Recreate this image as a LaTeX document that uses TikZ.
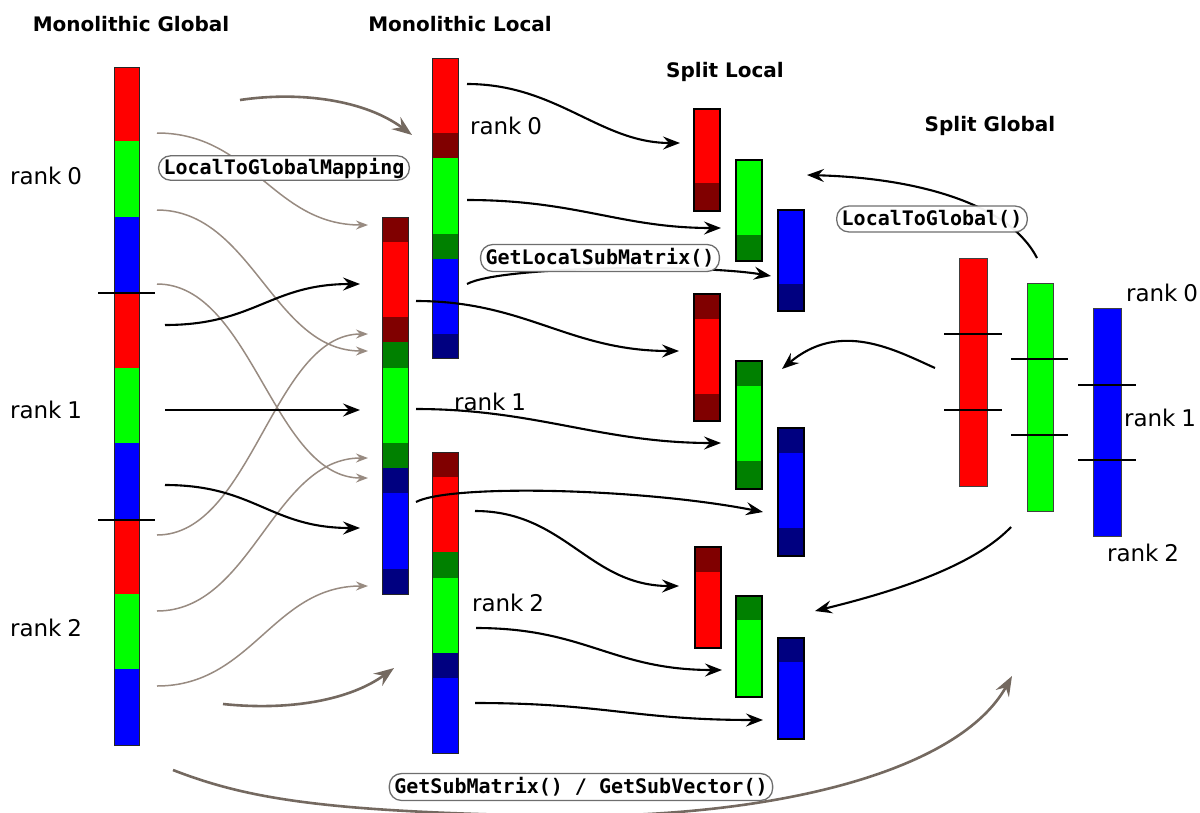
\documentclass[tikz,border=0pt]{standalone}
\usepackage{fontspec}
\setmainfont{DejaVu Sans}
\newfontfamily\codefont{DejaVu Sans Mono}
\usetikzlibrary{arrows.meta}
\definecolor{dred}{RGB}{128,0,0}
\definecolor{dgreen}{RGB}{0,128,0}
\definecolor{dblue}{RGB}{0,0,128}
\definecolor{pgreen}{RGB}{0,255,0}
\definecolor{pred}{RGB}{255,0,0}
\definecolor{pblue}{RGB}{0,0,255}
\definecolor{lgray}{RGB}{152,139,129}
\definecolor{dgray}{RGB}{116,105,96}
\definecolor{boxgray}{RGB}{110,110,110}
\newcommand{\segs}[3]{\foreach \c/\a/\b in {#3} {\fill[\c] (#1,\a) rectangle ({#1+#2},\b);}}
\tikzset{
  blk/.style={draw=black, line width=2.1pt, -{Stealth[length=17pt,width=13pt,inset=6pt]}},
  thinarr/.style={draw=lgray, line width=1.5pt, -{Stealth[length=12pt,width=9pt,inset=4pt]}},
  thickarr/.style={draw=dgray, line width=2.6pt, -{Stealth[length=20pt,width=15pt,inset=7pt]}},
  codebox/.style={draw=boxgray, line width=1.3pt, rounded corners=12pt, fill=white, fill opacity=0.94, text opacity=1, font=\codefont\bfseries\fontsize{20}{24}\selectfont, inner xsep=5pt, inner ysep=4pt},
  rank/.style={font=\fontsize{23}{26}\selectfont, inner sep=0pt},
  title/.style={font=\bfseries\fontsize{20}{23}\selectfont, inner sep=0pt},
  mono/.style={draw=black!85, line width=1.2pt, anchor=north west, inner sep=0pt},
  splitl/.style={draw=black, line width=2.4pt, anchor=north west, inner sep=0pt},
  splitg/.style={draw=black!75, line width=1pt, anchor=north west, inner sep=0pt},
  tick/.style={draw=black, line width=1.4pt}
}
\begin{document}
\begin{tikzpicture}[x=1pt,y=-1pt]
\useasboundingbox (0,0) rectangle (1200,812);

% titles
\node[title] (t1) at (131,24) {Monolithic Global};
\node[title] (t2) at (460,24) {Monolithic Local};
\node[title] (t3) at (725,72) {Split Local};
\node[title] (t4) at (990,126) {Split Global};

% rank labels
\node[rank] (r0a) at (46,176) {rank\kern0.25em 0};
\node[rank] (r1a) at (46,410) {rank\kern0.25em 1};
\node[rank] (r2a) at (46,628) {rank\kern0.25em 2};
\node[rank] (r0b) at (506,126) {rank\kern0.25em 0};
\node[rank] (r1b) at (490,402) {rank\kern0.25em 1};
\node[rank] (r2b) at (508,603) {rank\kern0.25em 2};
\node[rank] (r0c) at (1162,293) {rank\kern0.25em 0};
\node[rank] (r1c) at (1160,418) {rank\kern0.25em 1};
\node[rank] (r2c) at (1143,553) {rank\kern0.25em 2};

% Monolithic Global
\segs{114}{25}{pred/67/141, pgreen/141/217, pblue/217/293, pred/293/368, pgreen/368/443, pblue/443/520, pred/520/594, pgreen/594/669, pblue/669/745}
\node[mono, minimum width=25, minimum height=678] (MG) at (114,67) {};
\coordinate (tk1a) at (98,293); \coordinate (tk1b) at (155,293);
\coordinate (tk2a) at (98,520); \coordinate (tk2b) at (155,520);
\draw[tick] (tk1a) -- (tk1b);
\draw[tick] (tk2a) -- (tk2b);

% Monolithic Local
\segs{432}{26}{pred/58/133, dred/133/158, pgreen/158/234, dgreen/234/259, pblue/259/334, dblue/334/358}
\node[mono, minimum width=26, minimum height=300] (ML0) at (432,58) {};
\segs{382}{26}{dred/217/242, pred/242/317, dred/317/342, dgreen/342/368, pgreen/368/443, dgreen/443/468, dblue/468/493, pblue/493/569, dblue/569/594}
\node[mono, minimum width=26, minimum height=377] (ML1) at (382,217) {};
\segs{432}{26}{dred/452/477, pred/477/552, dgreen/552/578, pgreen/578/653, dblue/653/678, pblue/678/753}
\node[mono, minimum width=26, minimum height=301] (ML2) at (432,452) {};

% Split Local
\segs{693}{26}{pred/108/183, dred/183/210}
\node[splitl, minimum width=26, minimum height=102] (SL0r) at (693,108) {};
\segs{735}{26}{pgreen/159/235, dgreen/235/260}
\node[splitl, minimum width=26, minimum height=101] (SL0g) at (735,159) {};
\segs{777}{26}{pblue/209/284, dblue/284/310}
\node[splitl, minimum width=26, minimum height=101] (SL0b) at (777,209) {};
\segs{693}{26}{dred/293/319, pred/319/394, dred/394/420}
\node[splitl, minimum width=26, minimum height=127] (SL1r) at (693,293) {};
\segs{735}{26}{dgreen/360/386, pgreen/386/461, dgreen/461/488}
\node[splitl, minimum width=26, minimum height=128] (SL1g) at (735,360) {};
\segs{777}{26}{dblue/427/453, pblue/453/528, dblue/528/555}
\node[splitl, minimum width=26, minimum height=128] (SL1b) at (777,427) {};
\segs{694}{26}{dred/546/572, pred/572/647}
\node[splitl, minimum width=26, minimum height=101] (SL2r) at (694,546) {};
\segs{735}{26}{dgreen/595/620, pgreen/620/696}
\node[splitl, minimum width=26, minimum height=101] (SL2g) at (735,595) {};
\segs{777}{26}{dblue/637/662, pblue/662/738}
\node[splitl, minimum width=26, minimum height=101] (SL2b) at (777,637) {};

% Split Global
\node[splitg, fill=pred, minimum width=28, minimum height=228] (SGr) at (959,258) {};
\node[splitg, fill=pgreen, minimum width=26, minimum height=228] (SGg) at (1027,283) {};
\node[splitg, fill=pblue, minimum width=28, minimum height=228] (SGb) at (1093,308) {};
\coordinate (g1a) at (944,334); \coordinate (g1b) at (1002,334);
\coordinate (g2a) at (944,410); \coordinate (g2b) at (1002,410);
\coordinate (g3a) at (1011,359); \coordinate (g3b) at (1068,359);
\coordinate (g4a) at (1011,435); \coordinate (g4b) at (1068,435);
\coordinate (g5a) at (1078,385); \coordinate (g5b) at (1136,385);
\coordinate (g6a) at (1078,460); \coordinate (g6b) at (1136,460);
\foreach \p in {1,...,6} {\draw[tick] (g\p a) -- (g\p b);}

% ---- LocalToGlobalMapping thin arrows
\coordinate (m1s) at (157,133); \coordinate (m1e) at (368,225);
\coordinate (m2s) at (157,210); \coordinate (m2e) at (368,351);
\coordinate (m3s) at (157,284); \coordinate (m3e) at (368,478);
\coordinate (m4s) at (157,535); \coordinate (m4e) at (368,334);
\coordinate (m5s) at (157,611); \coordinate (m5e) at (368,458);
\coordinate (m6s) at (157,686); \coordinate (m6e) at (368,586);
\foreach \i in {1,...,6} {\draw[thinarr] (m\i s) .. controls +(95,0) and +(-95,0) .. (m\i e);}

% black arrows global -> local rank 1
\coordinate (b1s) at (165,325); \coordinate (b1e) at (360,284);
\coordinate (b2s) at (165,410); \coordinate (b2e) at (360,410);
\coordinate (b3s) at (165,485); \coordinate (b3e) at (360,528);
\draw[blk] (b1s) .. controls +(90,0) and +(-90,0) .. (b1e);
\draw[blk] (b2s) -- (b2e);
\draw[blk] (b3s) .. controls +(90,0) and +(-90,0) .. (b3e);

% thick gray arrows
\coordinate (h1s) at (240,100); \coordinate (h1e) at (412,135);
\coordinate (h2s) at (223,704); \coordinate (h2e) at (394,668);
\draw[thickarr] (h1s) .. controls (300,91) and (365,100) .. (h1e);
\draw[thickarr] (h2s) .. controls (290,711) and (350,700) .. (h2e);
\coordinate (h3s) at (173,770); \coordinate (h3m) at (560,816); \coordinate (h3e) at (1012,676);
\draw[thickarr] (h3s) .. controls (250,800) and (330,812) .. (h3m) .. controls (780,818) and (960,770) .. (h3e);

% local -> split local
\coordinate (c1s) at (467,84);  \coordinate (c1e) at (680,143);
\coordinate (c2s) at (467,200); \coordinate (c2e) at (721,228);
\coordinate (c3s) at (467,284); \coordinate (c3e) at (771,276);
\coordinate (c4s) at (416,301); \coordinate (c4e) at (679,351);
\coordinate (c5s) at (416,409); \coordinate (c5e) at (721,443);
\coordinate (c6s) at (416,502); \coordinate (c6e) at (763,512);
\coordinate (c7s) at (475,511); \coordinate (c7e) at (679,586);
\coordinate (c8s) at (476,628); \coordinate (c8e) at (722,670);
\coordinate (c9s) at (475,703); \coordinate (c9e) at (763,720);
\draw[blk] (c1s) .. controls +(90,0) and +(-80,0) .. (c1e);
\draw[blk] (c2s) .. controls +(110,0) and +(-100,0) .. (c2e);
\draw[blk] (c3s) .. controls (500,266) and (700,264) .. (c3e);
\draw[blk] (c4s) .. controls +(110,0) and +(-110,0) .. (c4e);
\draw[blk] (c5s) .. controls +(120,0) and +(-120,0) .. (c5e);
\draw[blk] (c6s) .. controls (450,484) and (640,488) .. (c6e);
\draw[blk] (c7s) .. controls +(90,0) and +(-90,0) .. (c7e);
\draw[blk] (c8s) .. controls +(110,0) and +(-110,0) .. (c8e);
\draw[blk] (c9s) .. controls +(130,0) and +(-130,0) .. (c9e);

% split global -> split local
\coordinate (d1s) at (1037,258); \coordinate (d1e) at (807,175);
\coordinate (d2s) at (935,368);  \coordinate (d2e) at (782,369);
\coordinate (d3s) at (1011,527); \coordinate (d3e) at (815,611);
\draw[blk] (d1s) .. controls (1010,205) and (920,178) .. (d1e);
\draw[blk] (d2s) .. controls (895,350) and (840,320) .. (d2e);
\draw[blk] (d3s) .. controls (970,570) and (880,595) .. (d3e);

% code labels
\node[codebox, inner ysep=2pt] (l2g) at (284,168) {LocalToGlobalMapping};
\node[codebox] (gls) at (600,258) {GetLocalSubMatrix()};
\node[codebox] (ltg) at (932,219) {LocalToGlobal()};
\node[codebox] (gsm) at (581,787) {GetSubMatrix() / GetSubVector()};
\end{tikzpicture}
\end{document}
